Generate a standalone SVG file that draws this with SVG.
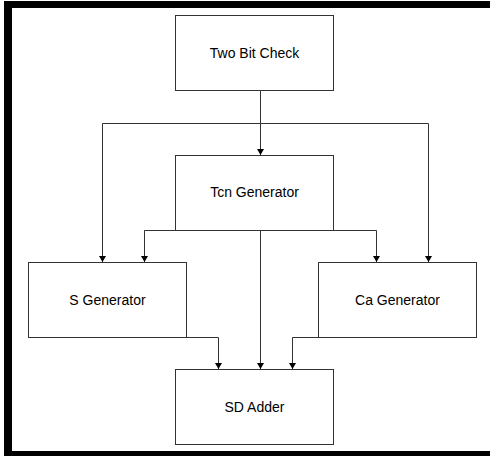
<svg xmlns="http://www.w3.org/2000/svg" width="490" height="456" viewBox="0 0 490 456">
<defs>
<style>
.box{fill:#fff;stroke:#333;stroke-width:1}
.lbl{font-family:"Liberation Sans",Arial,sans-serif;font-size:14px;fill:#000;text-anchor:middle}
.con{fill:none;stroke:#333;stroke-width:1}
</style>
<marker id="ah" markerWidth="6" markerHeight="7" refX="6" refY="3.5" orient="auto" markerUnits="userSpaceOnUse">
<path d="M0,0 L6,3.5 L0,7 Z" fill="#000"/>
</marker>
</defs>
<rect width="490" height="456" fill="#fff"/>
<g id="frame" fill="#000">
<rect x="4" y="1" width="486" height="7"/>
<rect x="4" y="1" width="8" height="455"/>
<rect x="4" y="451" width="486" height="5"/>
</g>
<g id="connectors">
<path class="con" d="M260.5,90.5 V155" marker-end="url(#ah)"/>
<path class="con" d="M102.5,262 V123.5 H428.5 V262" marker-end="url(#ah)"/>
<path class="con" d="M102.5,123.5 V262" marker-end="url(#ah)"/>
<path class="con" d="M144.5,262 V230.5 H376.5 V262" marker-end="url(#ah)"/>
<path class="con" d="M144.5,230.5 V262" marker-end="url(#ah)"/>
<path class="con" d="M260.5,230.5 V369" marker-end="url(#ah)"/>
<path class="con" d="M123,337.5 H218.5 V369" marker-end="url(#ah)"/>
<path class="con" d="M353,337.5 H292.5 V369" marker-end="url(#ah)"/>
</g>
<g id="two-bit-check">
<rect class="box" x="175.5" y="15.5" width="158" height="75"/>
<text class="lbl" x="254.5" y="57.5">Two Bit Check</text>
</g>
<g id="tcn-generator">
<rect class="box" x="175.5" y="155.5" width="158" height="75"/>
<text class="lbl" x="254.5" y="197">Tcn Generator</text>
</g>
<g id="s-generator">
<rect class="box" x="28.5" y="262.5" width="158" height="75"/>
<text class="lbl" x="107.5" y="304.5">S Generator</text>
</g>
<g id="ca-generator">
<rect class="box" x="318.5" y="262.5" width="158" height="75"/>
<text class="lbl" x="397.5" y="304.5">Ca Generator</text>
</g>
<g id="sd-adder">
<rect class="box" x="175.5" y="369.5" width="158" height="75"/>
<text class="lbl" x="254.5" y="412">SD Adder</text>
</g>
</svg>
